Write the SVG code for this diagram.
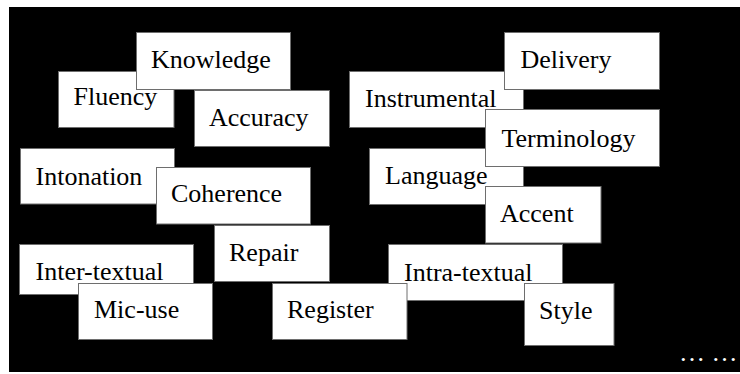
<svg xmlns="http://www.w3.org/2000/svg" width="740" height="374" viewBox="0 0 740 374">
<style>
.box{fill:#ffffff;stroke:#6e6e6e;stroke-width:1}
.lbl{font-family:'Liberation Serif','Times New Roman',serif;font-size:26px;fill:#000000}
.dots{font-family:'Liberation Serif','Times New Roman',serif;font-size:26px;fill:#ffffff}
</style>
<rect x="0" y="0" width="740" height="374" fill="#ffffff"/>
<rect x="9" y="7" width="731" height="365" fill="#000000"/>
<g id="connectors"></g>
<g id="n-fluency"><rect class="box" x="58.5" y="71.5" width="115.5" height="56"/><text class="lbl" x="73.5" y="105">Fluency</text></g>
<g id="n-knowledge"><rect class="box" x="136.5" y="32.5" width="154" height="57"/><text class="lbl" x="151" y="68">Knowledge</text></g>
<g id="n-accuracy"><rect class="box" x="194.5" y="90.5" width="135" height="56"/><text class="lbl" x="209" y="126">Accuracy</text></g>
<g id="n-intonation"><rect class="box" x="20.5" y="148.5" width="154" height="55.5"/><text class="lbl" x="35.5" y="185">Intonation</text></g>
<g id="n-coherence"><rect class="box" x="156.5" y="167.5" width="154" height="56.5"/><text class="lbl" x="171" y="202">Coherence</text></g>
<g id="n-repair"><rect class="box" x="214.5" y="225.5" width="115" height="56"/><text class="lbl" x="229" y="261">Repair</text></g>
<g id="n-intertextual"><rect class="box" x="19.5" y="244.5" width="174" height="50"/><text class="lbl" x="35.5" y="280">Inter-textual</text></g>
<g id="n-micuse"><rect class="box" x="78.5" y="283.5" width="134" height="56"/><text class="lbl" x="94" y="318">Mic-use</text></g>
<g id="n-intratextual"><rect class="box" x="388.5" y="244.5" width="174" height="56"/><text class="lbl" x="404" y="280.5">Intra-textual</text></g>
<g id="n-register"><rect class="box" x="272.5" y="283.5" width="134.5" height="56"/><text class="lbl" x="287" y="318">Register</text></g>
<g id="n-style"><rect class="box" x="524.5" y="283.5" width="89.5" height="62"/><text class="lbl" x="539" y="319">Style</text></g>
<g id="n-instrumental"><rect class="box" x="349.5" y="71.5" width="174" height="56"/><text class="lbl" x="365" y="107">Instrumental</text></g>
<g id="n-delivery"><rect class="box" x="504.5" y="32.5" width="155" height="57"/><text class="lbl" x="520.5" y="68">Delivery</text></g>
<g id="n-language"><rect class="box" x="369.5" y="148.5" width="154" height="56"/><text class="lbl" x="385" y="184">Language</text></g>
<g id="n-terminology"><rect class="box" x="485.5" y="109.5" width="174" height="57"/><text class="lbl" x="501.5" y="147">Terminology</text></g>
<g id="n-accent"><rect class="box" x="485.5" y="186.5" width="115.5" height="56.5"/><text class="lbl" x="500" y="222">Accent</text></g>
<text class="dots" x="679" y="361">… …</text>
</svg>
